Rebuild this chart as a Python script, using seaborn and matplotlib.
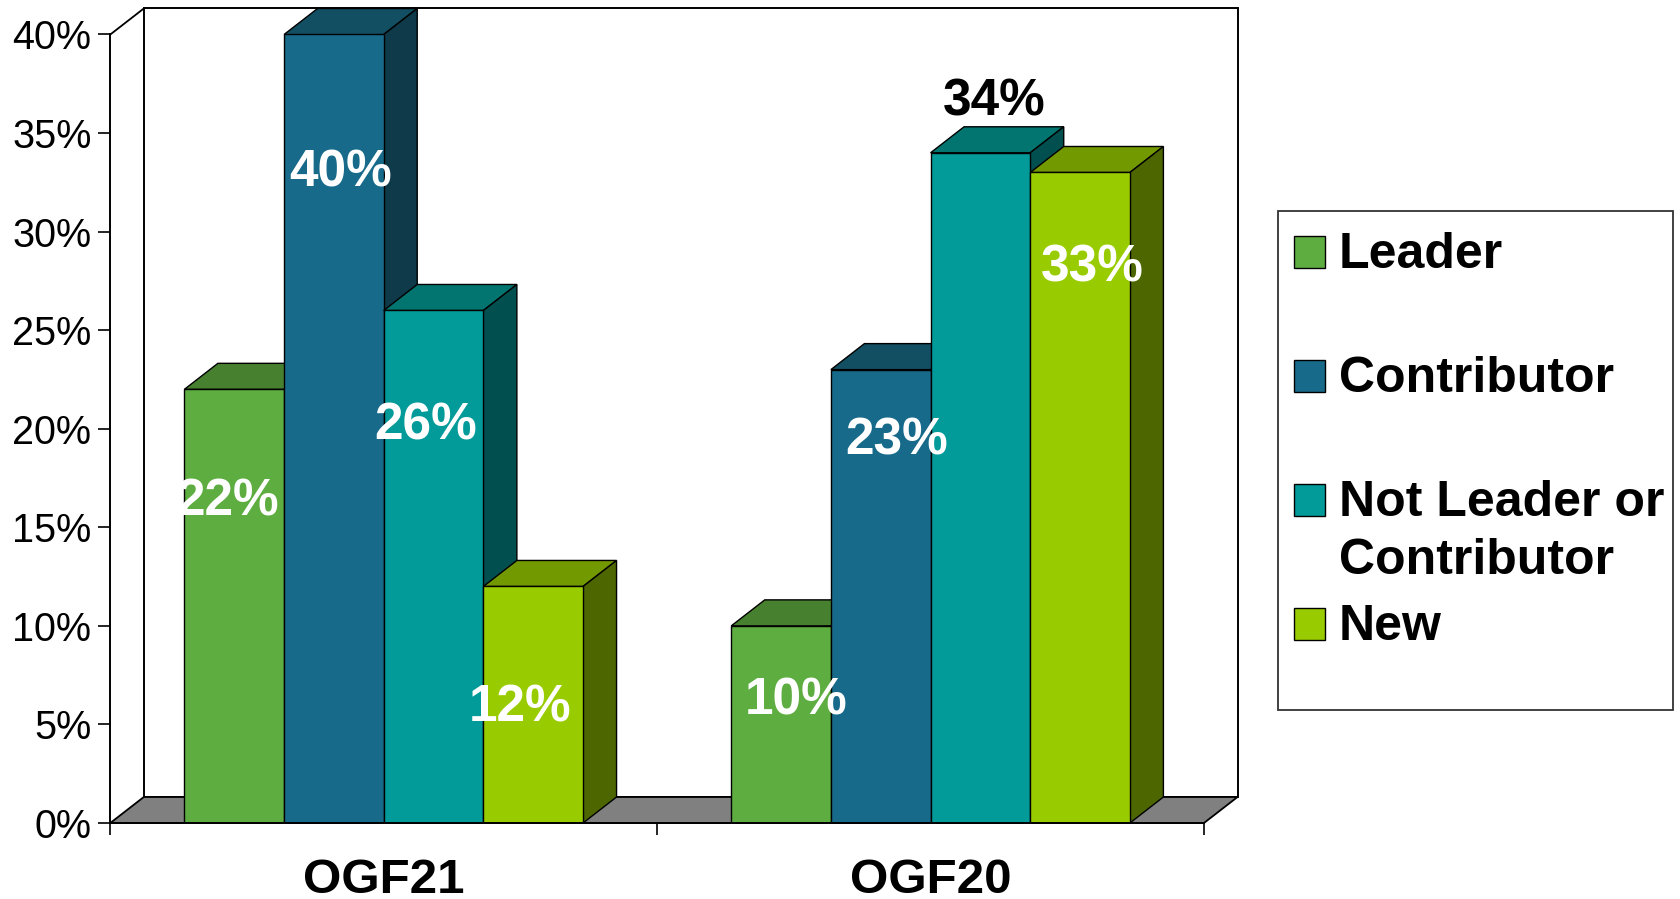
import numpy as np
import pandas as pd
import matplotlib
matplotlib.use('Agg')
import matplotlib.pyplot as plt
from matplotlib.patches import Polygon, Rectangle
import seaborn as sns

# 読み取った値
meetings = ['OGF21', 'OGF20']
roles = ['Leader', 'Contributor', 'Not Leader or\nContributor', 'New']
leader = [22, 10]
contributor = [40, 23]
not_leader = [26, 34]
new = [12, 33]
y_ticks = [0, 5, 10, 15, 20, 25, 30, 35, 40]

front_colors = ['#5EAD41', '#186A8A', '#039A9A', '#99CC00']
top_colors = ['#47802E', '#134F63', '#037570', '#729900']
side_colors = ['#30561F', '#0E3A4A', '#024F4F', '#4D6600']
label_colors = [['white', 'white'], ['white', 'white'], ['white', 'black'], ['white', 'white']]

# ラベルの位置 (バー上端中央からのピクセル差)
label_dx = [[-7, 15], [7, 16], [-8, 14], [-13, 12]]
label_dy = [[-113, -75], [-139, -71], [-116, 51], [-122, -96]]

df = pd.DataFrame({'meeting': meetings * 4,
                   'role': np.repeat(roles, 2),
                   'value': leader + contributor + not_leader + new})

W, H = 1681, 899
sns.set_style('white')
plt.rcParams['font.family'] = ['Liberation Sans', 'DejaVu Sans']

fig = plt.figure(figsize=(W / 100, H / 100), dpi=100)
ax_left, ax_right, ax_bottom, ax_top = 110.3, 1204, 823, 34.5
ax = fig.add_axes([ax_left / W, (H - ax_bottom) / H, (ax_right - ax_left) / W, (ax_bottom - ax_top) / H])

sns.barplot(data=df, x='meeting', y='value', hue='role', order=meetings, hue_order=roles,
            palette=front_colors, width=0.729, gap=0, saturation=1, legend=False, ax=ax,
            edgecolor='black', linewidth=1.0)
ax.set_xlim(-0.5, 1.5)
ax.set_ylim(0, 40)

# 奥行き (データ単位)
dep_x = 33.5 / ((ax_right - ax_left) / 2)
dep_y = 26 / ((ax_bottom - ax_top) / 40)

# 壁と床
line_kw = dict(color='black', lw=1.3, clip_on=False, zorder=1)
ax.add_patch(Polygon([(-0.5 + dep_x, dep_y), (1.5 + dep_x, dep_y), (1.5 + dep_x, 40 + dep_y), (-0.5 + dep_x, 40 + dep_y)],
                     closed=True, fc='white', ec='black', lw=1.4, clip_on=False, zorder=0.5))
ax.add_patch(Polygon([(-0.5, 0), (1.5, 0), (1.5 + dep_x, dep_y), (-0.5 + dep_x, dep_y)],
                     closed=True, fc='#808080', ec='black', lw=1.3, clip_on=False, zorder=1))
ax.plot([-0.5, -0.5 + dep_x], [40, 40 + dep_y], **line_kw)

# 3D風のバー
for i, container in enumerate(ax.containers):
    base = 5 + i * 2
    for j, bar in enumerate(container.patches):
        x0, w, h = bar.get_x(), bar.get_width(), bar.get_height()
        x1 = x0 + w
        bar.set_zorder(base + 1)
        ax.add_patch(Polygon([(x0, h), (x1, h), (x1 + dep_x, h + dep_y), (x0 + dep_x, h + dep_y)], closed=True,
                             fc=top_colors[i], ec='black', lw=1.0, clip_on=False, zorder=base))
        ax.add_patch(Polygon([(x1, 0), (x1 + dep_x, dep_y), (x1 + dep_x, h + dep_y), (x1, h)], closed=True,
                             fc=side_colors[i], ec='black', lw=1.0, clip_on=False, zorder=base))
        ax.annotate('%d%%' % h, xy=(x0 + w / 2, h), xytext=(label_dx[i][j], label_dy[i][j]),
                    textcoords='offset pixels', ha='center', va='center', fontsize=37, fontweight='bold',
                    color=label_colors[i][j], zorder=30, annotation_clip=False)

# 軸
sns.despine(ax=ax, top=True, right=True)
for s in ['left', 'bottom']:
    ax.spines[s].set_linewidth(1.4)
    ax.spines[s].set_color('black')
    ax.spines[s].set_zorder(20)
ax.set_xlabel('')
ax.set_ylabel('')
ax.set_yticks(y_ticks)
ax.set_yticklabels(['%d%%' % v for v in y_ticks], fontsize=28.5, color='black')
ax.tick_params(axis='y', left=True, length=8.6, width=1.2, pad=5, color='black')
ax.set_xticks([0, 1])
ax.set_xticklabels(meetings, fontsize=35.5, fontweight='bold', color='black')
ax.tick_params(axis='x', which='major', bottom=False, length=0, pad=25)
ax.set_xticks([-0.5, 0.5, 1.5], minor=True)
ax.tick_params(axis='x', which='minor', bottom=True, length=8.6, width=1.2, color='black')

# 凡例 (行の高さが不揃いなので手で配置)
legend_x0, legend_x1, legend_y0, legend_y1 = 1278, 1673, 211, 710
fig.add_artist(Rectangle((legend_x0 / W, 1 - legend_y1 / H), (legend_x1 - legend_x0) / W, (legend_y1 - legend_y0) / H,
                         transform=fig.transFigure, fc='white', ec='#333333', lw=1.3))
legend_rows = [252, 375.5, 499.5, 623.5]
for role, color, y in zip(roles, front_colors, legend_rows):
    fig.add_artist(Rectangle((1294 / W, 1 - (y + 16) / H), 31 / W, 32 / H, transform=fig.transFigure,
                             fc=color, ec='black', lw=1.0))
    fig.text(1339 / W, 1 - (y - 20) / H, role, fontsize=36, fontweight='bold', color='black',
             ha='left', va='top', linespacing=1.34)

fig.savefig('out.png', dpi=100)
